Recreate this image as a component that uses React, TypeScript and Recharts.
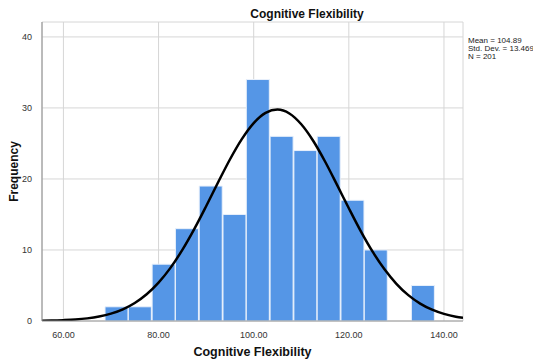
import {
  ComposedChart,
  Bar,
  Line,
  XAxis,
  YAxis,
  CartesianGrid,
} from 'recharts';

// histogram bins (centres) and counts
const binCenters = [71.2, 76.1, 81.1, 86.0, 91.0, 96.0, 100.9, 105.9, 110.9, 115.8, 120.8, 125.7, 130.7, 135.6];
const binCounts = [2, 2, 8, 13, 19, 15, 34, 26, 24, 26, 17, 10, 0, 5];

// normal curve
const curveX = [55.5, 57.5, 60, 62.5, 65, 67.5, 70, 72.5, 75, 77.5, 80, 82.5, 85, 87.5, 90, 92.5, 95, 97.5, 100, 102.5, 105, 107.5, 110, 112.5, 115, 117.5, 120, 122.5, 125, 127.5, 130, 132.5, 135, 137.5, 140, 142.5, 144];
const curveY = [0.04, 0.06, 0.12, 0.21, 0.37, 0.63, 1.04, 1.65, 2.54, 3.77, 5.4, 7.48, 10.01, 12.94, 16.16, 19.5, 22.74, 25.61, 27.87, 29.31, 29.77, 29.22, 27.7, 25.38, 22.46, 19.2, 15.87, 12.66, 9.76, 7.28, 5.24, 3.64, 2.45, 1.59, 1.0, 0.6, 0.44];

const xTicks = [60, 80, 100, 120, 140];
const yTicks = [0, 10, 20, 30, 40];
const statsLines = ['Mean = 104.89', 'Std. Dev. = 13.469', 'N = 201'];

const bars = binCenters.map((x, i) => ({ x, count: binCounts[i] }));
const curve = curveX.map((x, i) => ({ x, y: curveY[i] }));

const FONT = '"Liberation Sans", Arial, sans-serif';
const X_DOMAIN: [number, number] = [55.5, 144];

export default function App() {
  return (
    <div style={{ position: 'relative', width: 533, height: 362, fontFamily: FONT }}>
      <style>{'body{margin:0}'}</style>
      <ComposedChart
        width={533}
        height={362}
        data={bars}
        barCategoryGap={0}
        margin={{ top: 22, right: 70, bottom: 0, left: 0 }}
      >
        <CartesianGrid stroke="#d6d6d6" xAxisId="main" ticks={xTicks} />
        <XAxis
          xAxisId="bins"
          type="number"
          dataKey="x"
          domain={X_DOMAIN}
          allowDataOverflow
          hide
          height={0}
        />
        <XAxis
          xAxisId="main"
          type="number"
          dataKey="x"
          domain={X_DOMAIN}
          ticks={xTicks}
          allowDataOverflow
          tickFormatter={(v) => v.toFixed(2)}
          tick={{ fontSize: 9, fill: '#333', fontFamily: FONT }}
          tickLine={false}
          axisLine={{ stroke: '#9a9a9a' }}
          tickMargin={5}
          height={41}
        />
        <YAxis
          type="number"
          domain={[0, 42.1]}
          ticks={yTicks}
          allowDataOverflow
          tick={{ fontSize: 9, fill: '#333', fontFamily: FONT }}
          tickLine={false}
          axisLine={{ stroke: '#8a8a8a' }}
          tickMargin={4}
          width={42}
        />
        <Bar
          xAxisId="bins"
          dataKey="count"
          fill="#5596e6"
          stroke="#e8f0fb"
          strokeWidth={1}
          isAnimationActive={false}
        />
        <Line
          xAxisId="main"
          data={curve}
          dataKey="y"
          type="monotone"
          stroke="#000"
          strokeWidth={2.5}
          dot={false}
          activeDot={false}
          isAnimationActive={false}
        />
      </ComposedChart>
      <svg
        width={533}
        height={362}
        style={{ position: 'absolute', left: 0, top: 0, pointerEvents: 'none' }}
      >
        <text x={307} y={18} textAnchor="middle" fontSize={12} fontWeight="bold" fontFamily={FONT} fill="#111">
          Cognitive Flexibility
        </text>
        <text x={252.5} y={356} textAnchor="middle" fontSize={12.5} fontWeight="bold" fontFamily={FONT} fill="#111">
          Cognitive Flexibility
        </text>
        <text
          x={0}
          y={0}
          transform="translate(18,171.5) rotate(-90)"
          textAnchor="middle"
          fontSize={12}
          fontWeight="bold"
          fontFamily={FONT}
          fill="#111"
        >
          Frequency
        </text>
        {statsLines.map((s, i) => (
          <text key={s} x={468} y={43 + i * 8} fontSize={8} fontFamily={FONT} fill="#222">
            {s}
          </text>
        ))}
      </svg>
    </div>
  );
}
